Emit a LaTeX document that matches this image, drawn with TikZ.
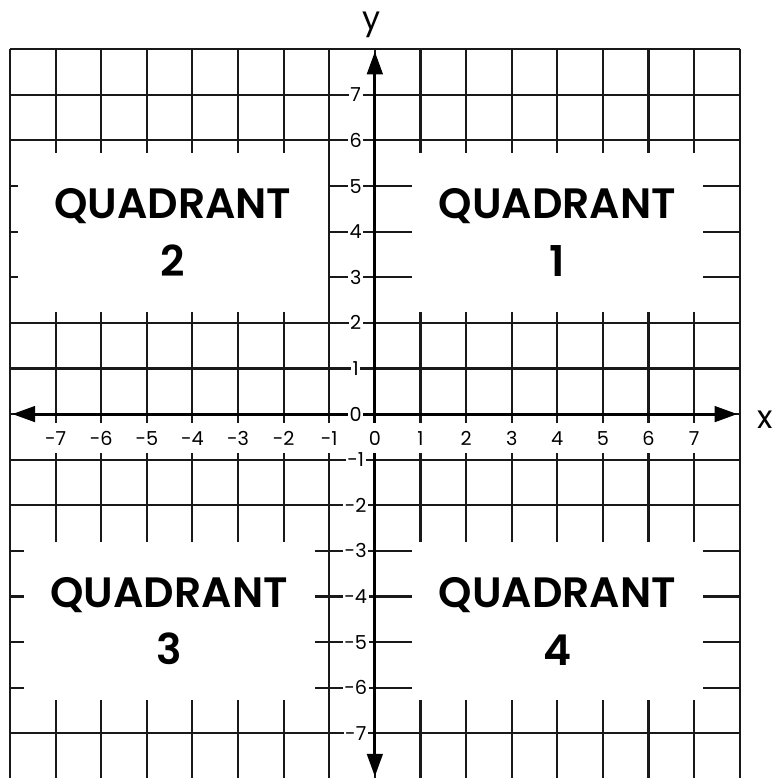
\documentclass[tikz,border=0pt]{standalone}
\usepackage{fontspec}
\setmainfont{Poppins}[BoldFont={* SemiBold}]
\usetikzlibrary{arrows.meta}

\begin{document}
\begin{tikzpicture}[
    gridline/.style={black!90,line width=1.3pt},
    axisline/.style={black,line width=1.9pt,
      {Triangle[length=0.5cm,width=0.34cm]}-{Triangle[length=0.5cm,width=0.34cm]}},
    quad/.style={fill=white,inner sep=0pt,align=center,
      font=\fontsize{26.5}{36}\selectfont\bfseries},
    ticklbl/.style={fill=white,inner sep=1pt,font=\fontsize{12}{13}\selectfont},
    axislbl/.style={font=\fontsize{20}{22}\selectfont}]

  \useasboundingbox (-8.22,-7.98) rectangle (8.71,9.08);
  \fill[white] (-8.22,-7.98) rectangle (8.71,9.08);

  % grid
  \foreach \k in {-8,...,8} {
    \draw[gridline] (\k,-8) -- (\k,8);
    \draw[gridline] (-8,\k) -- (8,\k);
  }

  % quadrant panels
  \node[quad,minimum width=6.38cm,minimum height=3.48cm] (q1) at (4.0,3.98) {QUADRANT\\1};
  \node[quad,minimum width=6.80cm,minimum height=3.48cm] (q2) at (-4.43,3.98) {QUADRANT\\2};
  \node[quad,minimum width=6.38cm,minimum height=3.46cm] (q3) at (-4.51,-4.54) {QUADRANT\\3};
  \node[quad,minimum width=6.38cm,minimum height=3.46cm] (q4) at (4.0,-4.54) {QUADRANT\\4};

  % axes
  \coordinate (xleft) at (-7.95,0);
  \coordinate (xright) at (7.95,0);
  \coordinate (ybot) at (0,-7.95);
  \coordinate (ytop) at (0,7.95);
  \draw[axisline] (xleft) -- (xright);
  \draw[axisline] (ybot) -- (ytop);

  % tick labels
  \foreach \k [count=\n] in {-7,...,7} {
    \node[ticklbl,minimum height=0.66cm] (xt\n) at (\k,-0.53) {\k};
    \node[ticklbl] (yt\n) at (-0.42,\k) {\k};
  }

  \node[axislbl] (xlab) at (8.55,-0.13) {x};
  \node[axislbl] (ylab) at (-0.07,8.53) {y};
\end{tikzpicture}
\end{document}
